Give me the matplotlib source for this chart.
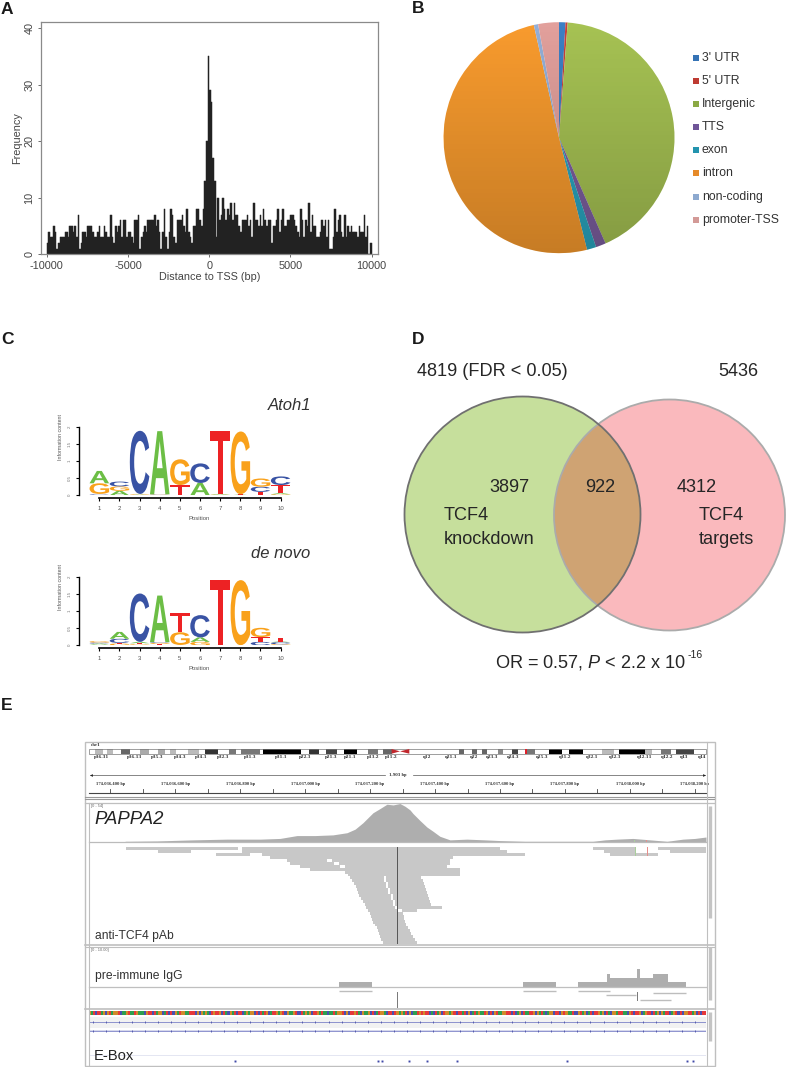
import numpy as np
import matplotlib
matplotlib.use("Agg")
import matplotlib.pyplot as plt
from matplotlib.patches import Circle, PathPatch, Rectangle
from matplotlib.textpath import TextPath
from matplotlib.font_manager import FontProperties
from matplotlib.transforms import Affine2D

plt.rcParams['font.family'] = ['Liberation Sans', 'DejaVu Sans']
plt.rcParams['mathtext.fontset'] = 'custom'
plt.rcParams['mathtext.rm'] = 'Liberation Sans'
plt.rcParams['mathtext.it'] = 'Liberation Sans:italic'

W, H = 786, 1067

# ---------- A: histogram
hist_counts = [2,4,3,3,5,4,1,2,3,3, 3,4,4,3,5,5,4,5,3,7,
               1,2,4,4,3,5,5,5,4,3, 3,4,5,3,3,5,4,3,3,7,
               3,2,5,4,5,6,3,6,6,3, 4,4,3,2,6,6,7,1,3,4,
               5,4,6,6,6,6,7,5,6,4, 1,4,8,3,1,4,8,7,3,2,
               6,6,6,7,5,4,8,4,3,2, 5,5,8,8,6,5,8,13,20,35,
               29,27,17,13,3,10,6,7,10,8, 6,8,7,9,6,9,7,7,5,4,
               6,6,6,7,5,6,3,9,6,6, 5,7,5,8,6,5,6,6,2,5,
               5,6,8,4,6,8,5,5,6,6, 7,7,6,5,4,3,8,6,3,6,
               5,9,4,7,5,5,3,3,4,6, 5,6,3,6,1,1,3,8,4,6,
               7,4,3,7,3,5,4,5,4,4, 4,3,5,4,4,7,3,5,0,2]
hist_bin_left = np.arange(-10000, 10000, 100)
hist_xticks = [-10000, -5000, 0, 5000, 10000]
hist_yticks = [0, 10, 20, 30, 40]

# ---------- B: pie
pie_labels = ["3' UTR", "5' UTR", "Intergenic", "TTS", "exon", "intron", "non-coding", "promoter-TSS"]
pie_values = [0.9, 0.3, 42.2, 1.4, 1.3, 50.4, 0.6, 2.9]
pie_colors = ['#3B7FC4', '#C8403C', '#A6C253', '#7D5FA0', '#2AA6C0', '#F89B2E', '#93AFD8', '#E2A09C']
pie_key_colors = ['#3573B5', '#BE3B32', '#8BA944', '#6F5598', '#2394AE', '#E68A29', '#8DA9CF', '#D39A97']

# ---------- C: sequence logos (bottom to top per position: letter, bits)
logo_colors = {'A': '#6CBE45', 'C': '#3953A4', 'G': '#F9A11B', 'T': '#ED2224'}
atoh1_stacks = [
    [('T', .02), ('C', .02), ('G', .31), ('A', .36)],
    [('A', .13), ('G', .13), ('C', .14)],
    [('A', .02), ('G', .02), ('C', 1.84)],
    [('G', .02), ('C', .01), ('A', 1.84)],
    [('T', .30), ('G', .75)],
    [('A', .36), ('C', .57)],
    [('G', .02), ('A', .02), ('T', 1.83)],
    [('A', .02), ('T', .01), ('G', 1.83)],
    [('T', .10), ('C', .15), ('G', .24)],
    [('G', .03), ('A', .03), ('T', .24), ('C', .25)],
]
denovo_stacks = [
    [('T', .02), ('A', .03), ('C', .03), ('G', .04)],
    [('G', .05), ('T', .02), ('C', .12), ('A', .20)],
    [('G', .03), ('T', .03), ('A', .04), ('C', 1.41)],
    [('T', .04), ('G', .03), ('C', .02), ('A', 1.36)],
    [('A', .01), ('G', .37), ('T', .56)],
    [('G', .10), ('A', .13), ('C', .65)],
    [('G', .01), ('T', 1.90)],
    [('G', 1.90)],
    [('C', .10), ('T', .14), ('G', .27)],
    [('G', .03), ('C', .06), ('A', .02), ('T', .11)],
]

# ---------- D: Venn texts
venn_counts = ['3897', '922', '4312']

# ---------- E: genome browser (bp relative to 174,036,000)
cyto_left = ['p36.31','p36.13','p35.3','p34.3','p34.1','p32.3','p31.3','p31.1','p22.3','p21.3','p21.1','p13.2','p11.2',
             'q12','q21.1','q22','q23.3','q24.3','q25.3','q31.2','q32.1','q32.3','q42.11','q42.2','q43','q44']
cyto_label_pos = [65,165,232,300,365,428,510,605,675,755,810,880,935,
                  1040,1115,1182,1236,1300,1385,1455,1535,1605,1695,1760,1812,1865]
band_start = [45,80,122,180,235,270,325,375,448,483,548,687,737,792,865,910,
              1137,1176,1206,1254,1296,1341,1408,1468,1566,1618,1696,1743,1787]
band_end = [68,98,150,207,255,288,358,413,467,540,663,718,772,830,895,935,
            1152,1191,1221,1269,1314,1366,1446,1510,1602,1696,1717,1773,1842]
band_gray = ['#bbbbbb','#bbbbbb','#666666','#aaaaaa','#aaaaaa','#bbbbbb','#bbbbbb','#333333','#777777','#777777',
             '#000000','#333333','#444444','#000000','#777777','#666666',
             '#666666','#666666','#666666','#888888','#444444','#777777','#000000','#000000','#bbbbbb','#000000',
             '#bbbbbb','#777777','#444444']

cov_bp = [446,545,655,760,862,923,975,1031,1086,1129,1154,1178,1209,1231,1252,1271,1292,1308,1323,1332,1354,1375,
          1394,1415,1446,1498,1554,1600,1677,1886,1923,1960,2009,2062,2114,2163,2200,2234]
cov_reads = [1,1.5,3,4,4,5,9,9,10,13,18,27,41,47,53,52,54,50,45,40,30,21,15,8,3,4,3,2,1,1,3,4,5,3,1,4,5,7]

read_row = [0,0,0,0, 1,1,1,1, 2,2,2, 3, 4,4, 5,5, 6,6, 7, 8, 9,
            10,10, 11,11, 12,12, 13,13, 14,14, 15,15, 16,16, 17,17, 18,18, 19,19,
            20,20, 21,21, 22, 23, 24, 25, 26, 27, 28, 29, 30, 31, 32]
read_start = [449,806,1886,2086, 548,806,1920,2123, 726,868,1938, 892, 945,1083, 954,1105, 985,1123, 1015, 1123, 1132,
              1138,1249, 1145,1249, 1151,1255, 1157,1255, 1160,1262, 1163,1262, 1166,1271, 1172,1271, 1178,1277, 1185,1277,
              1188,1283, 1194,1298, 1200, 1203, 1206, 1209, 1215, 1222, 1225, 1228, 1231, 1234, 1240]
read_end = [794,1600,2015,2234, 649,1622,2015,2234, 831,1677,2086, 1455, 1068,1446, 1089,1446, 1108,1437, 1477, 1477, 1477,
            1243,1357, 1243,1363, 1249,1366, 1249,1369, 1256,1372, 1256,1375, 1265,1378, 1265,1382, 1271,1385, 1271,1388,
            1277,1422, 1286,1345, 1302, 1305, 1305, 1308, 1311, 1317, 1323, 1326, 1332, 1338, 1345]
snp_bp = [2015, 2052]
snp_colors = ['#A9CF9B', '#E58E8B']

igg_start = [1105,1671,1840,1929,1938,2021,2031,2071,2117]
igg_end = [1206,1772,1929,1938,2021,2031,2071,2117,2172]
igg_level = [1,1,1,3,2,4,2,3,1]
igg_read_row = [0,0,0,1,2,3]
igg_read_start = [1105,1671,1840,2071,1926,2031]
igg_read_end = [1206,1772,1938,2172,2018,2126]

ebox_bp = [785,1225,1237,1320,1375,1468,1806,2175,2194]

ref_seq = ("GATCTTAGCGTAGGTCAAGTAATGAAACGTTCTAGGCATCTCGATGGAATTTCGCGAGACTGTTGCTACGATCTTCAGAGGCTCTATGCATTGAGTCGAAG"
           "TCCTAGAGCTTGATAACAATAGGTCGCTTGTACGAAGCTCATGGACTTCTGAGATCGCAATGTGTTCACTAGCTGGAGTCTTATCGCATAGAATGCTCGTA"
           "AGGTTCTCAGCTAATTGCGATACAGGCTTCGTGAATCCGTAGCATCTTGAGCTACGGATTAACGTCTTGCAGTTCTAGCGATTCAGTCTCGGTTAGCTCTT")
base_colors = {'A': '#2E9E4F', 'C': '#4A4FB0', 'G': '#D18A2A', 'T': '#E5383B'}


def ax_px(x0, y0, x1, y1, **kw):
    return fig.add_axes([x0 / W, 1 - y1 / H, (x1 - x0) / W, (y1 - y0) / H], **kw)


fig = plt.figure(figsize=(W / 100, H / 100), dpi=100, facecolor='white')

# ---- Panel A
ax = ax_px(41, 22, 378, 254.3)
ax.bar(hist_bin_left, hist_counts, width=100, align='edge', color='#222222',
       edgecolor='#222222', linewidth=0.35)
ax.set_xlim(-10351, 10388)
ax.set_ylim(0, 41.1)
ax.set_xticks(hist_xticks)
ax.set_yticks(hist_yticks)
ax.set_xticklabels([str(v) for v in hist_xticks], fontsize=7.8, color='#444444')
ax.set_yticklabels([str(v) for v in hist_yticks], fontsize=7.8, color='#444444', rotation=90, va='center')
ax.tick_params(length=2.5, width=0.6, color='#555555', pad=2.2)
for s in ax.spines.values():
    s.set_color('#8a8a8a')
    s.set_linewidth(0.9)
ax.set_xlabel('Distance to TSS (bp)', fontsize=7.8, color='#444444', labelpad=1.2)
ax.set_ylabel('Frequency', fontsize=7.8, color='#444444', labelpad=1.5)

# ---- Panel B
ax = ax_px(443.5, 22.2, 674.5, 253.2)
wedges, _ = ax.pie(pie_values, colors=pie_colors, startangle=90, counterclock=False,
                   radius=1, wedgeprops=dict(linewidth=0))
ax.set_xlim(-1, 1)
ax.set_ylim(-1, 1)
shade = np.zeros((100, 2, 4))
shade[..., 3] = np.linspace(0, 0.2, 100)[:, None]
im = ax.imshow(shade, extent=(-1, 1, -1, 1), origin='upper', aspect='auto', zorder=5)
im.set_clip_path(Circle((0, 0), 1, transform=ax.transData))
ax.set_xlim(-1, 1)
ax.set_ylim(-1, 1)
ax.axis('off')


# ---- Panel C
def draw_logo(box, stacks):
    x0, y0, x1, y1 = box
    a = ax_px(x0, y0, x1, y1)
    a.patch.set_alpha(0)
    a.set_ylim(0, 2)
    a.set_xlim(1 - (99.3 - x0) / 20.15, 1 + (x1 - 99.3) / 20.15)
    fp = FontProperties(family='Liberation Sans', weight='bold')
    for i, stack in enumerate(stacks, start=1):
        b = 0.0
        for letter, bits in stack:
            tp = TextPath((0, 0), letter, size=1, prop=fp)
            ext = tp.get_extents()
            tr = (Affine2D().translate(-ext.x0, -ext.y0)
                  .scale(0.97 / ext.width, bits / ext.height)
                  .translate(i - 0.485, b))
            a.add_patch(PathPatch(tp, transform=tr + a.transData, fc=logo_colors[letter], lw=0))
            b += bits
    for s in ('top', 'right'):
        a.spines[s].set_visible(False)
    a.spines['left'].set_linewidth(1.0)
    a.spines['bottom'].set_linewidth(1.2)
    a.spines['bottom'].set_position(('outward', 2.3))
    a.spines['bottom'].set_bounds(1, 10)
    a.set_yticks([0, .5, 1, 1.5, 2])
    a.set_yticklabels(['0', '0.5', '1', '1.5', '2'], fontsize=3.2, color='#777777', rotation=90, va='center')
    a.set_xticks(range(1, 11))
    a.set_xticklabels([str(i) for i in range(1, 11)], fontsize=4.3, color='#555555')
    a.tick_params(length=2, width=0.8, pad=3.5)


draw_logo((79.3, 426.7, 295, 495.3), atoh1_stacks)
draw_logo((79.3, 576.7, 295, 645.3), denovo_stacks)

# ---- Panel D
ax = ax_px(390, 380, 786, 650)
ax.set_xlim(390, 786)
ax.set_ylim(650, 380)
ax.axis('off')
ax.add_patch(Circle((669.5, 515), 115.5, fc='#FAB9BD', ec='none'))
ax.add_patch(Circle((522.5, 514.5), 118, fc='#C6DF9C', ec='none'))
both = Circle((522.5, 514.5), 118, fc='#CFA373', ec='none')
ax.add_patch(both)
both.set_clip_path(Circle((669.5, 515), 115.5, transform=ax.transData))
ax.add_patch(Circle((669.5, 515), 115.5, fc='none', ec='#ABABAB', lw=1.3))
ax.add_patch(Circle((522.5, 514.5), 118, fc='none', ec='#707070', lw=1.3))

# ---- Panel E
BP_L, BP_R = 335, 2234
TR_L, TR_R = 89, 706


def track(y0, y1, ylim):
    a = ax_px(TR_L, y0, TR_R, y1)
    a.set_xlim(BP_L, BP_R)
    a.set_ylim(*ylim)
    a.axis('off')
    a.patch.set_alpha(0)
    return a


# ideogram
a = track(749, 753.7, (0, 1))
a.set_xlim(27, 1878)
a.barh([0.5] * len(band_start), np.array(band_end) - np.array(band_start), left=band_start,
       height=1, color=band_gray, linewidth=0)
a.add_patch(Rectangle((27, 0), 1851, 1, fc='none', ec='#777777', lw=0.5, clip_on=False))
a.fill([935, 960, 935], [0, .5, 1], color='#C1272D', lw=0)
a.fill([988, 960, 988], [0, .5, 1], color='#C1272D', lw=0)
a.bar([1335], [1], width=6, color='#E0202A', align='edge', linewidth=0)
for lab, p in zip(cyto_left, cyto_label_pos):
    a.text(p, -0.25, lab, ha='center', va='top', fontsize=2.9, family='DejaVu Serif', weight='bold', color='#333333')

# ruler with ticks
a = ax_px(TR_L, 787, TR_R, 793.3)
a.patch.set_alpha(0)
a.set_xlim(BP_L, BP_R)
for s in ('left', 'right', 'top'):
    a.spines[s].set_visible(False)
a.spines['bottom'].set_color('#444444')
a.spines['bottom'].set_linewidth(0.8)
a.set_yticks([])
a.set_xticks(np.arange(400, 2201, 200))
a.set_xticklabels([f'174,03{6 + (v // 1000)},{v % 1000:03d} bp' for v in np.arange(400, 2201, 200)],
                  fontsize=2.4, family='DejaVu Serif', weight='bold', color='#333333')
a.tick_params(axis='x', which='both', bottom=False, top=True, labelbottom=False, labeltop=True,
              direction='out', length=0, pad=0.5)
for v in np.arange(400, 2300, 100):
    a.plot([v, v], [0, 0.62], color='#444444', lw=0.6)
a.set_ylim(0, 1)

# coverage anti-TCF4
a = track(803.5, 842, (0, 54))
a.fill_between(cov_bp, 0, cov_reads, color='#AEAEAE', lw=0)
a.plot([BP_L, BP_R], [0, 0], color='#BBBBBB', lw=0.9, clip_on=False)
for b, c in zip(snp_bp, snp_colors):
    a.bar(b, 3.5, width=3, color=c, linewidth=0)

# reads anti-TCF4
a = track(847, 944, (33, 0))
a.barh(read_row, np.array(read_end) - np.array(read_start), left=read_start, height=1.03,
       align='edge', color='#C8C8C8', linewidth=0)
a.plot([1284, 1284], [0, 33], color='#555555', lw=0.7)
for b, c in zip(snp_bp, snp_colors):
    a.bar(b, 3, width=4, bottom=0, color=c, linewidth=0, align='edge')

# coverage IgG
a = track(965, 986.7, (0, 5))
a.bar(igg_start, igg_level, width=np.array(igg_end) - np.array(igg_start), align='edge',
      color='#AEAEAE', linewidth=0)
# reads IgG
a = track(990, 1008, (12, 0))
rows_px = [0.7, 2.0, 3.4, 6.4]
for r, s, e in zip(igg_read_row, igg_read_start, igg_read_end):
    a.plot([s, e], [rows_px[r]] * 2, color='#BDBDBD', lw=1.0, solid_capstyle='butt')
a.plot([1284, 1284], [1, 11], color='#777777', lw=0.7)
a.plot([2021, 2021], [1.5, 6.5], color='#777777', lw=0.7)

# sequence strip
a = track(1010.7, 1015.3, (0, 1))
step = (BP_R - BP_L) / len(ref_seq)
a.bar(BP_L + np.arange(len(ref_seq)) * step, 1, width=step, align='edge',
      color=[base_colors[b] for b in ref_seq], linewidth=0)

# gene tracks
a = track(1017, 1034, (17, 0))
a.add_patch(Rectangle((BP_L, 0), BP_R - BP_L, 11, fc='#F2F2F2', ec='none'))
a.add_patch(Rectangle((BP_L, 13), BP_R - BP_L, 1.3, fc='#D6D8EC', ec='none'))
gene_ticks = np.arange(BP_L + 12, BP_R, 40.3)
for yy in (4.7, 14):
    a.plot([BP_L, BP_R], [yy, yy], color='#7C82C8', lw=0.6)
    a.plot(gene_ticks, [yy] * len(gene_ticks), ls='none', marker='|', ms=2, mew=0.6, color='#4A50A8')

# E-box
a = track(1050, 1066, (16, 0))
a.plot([BP_L, BP_R], [5, 5], color='#E4E6F2', lw=0.7)
a.plot(ebox_bp, [11] * len(ebox_bp), ls='none', marker='s', ms=1.4, mew=0, color='#3F49A8')

# ---- Overlay: frames and labels
ov = fig.add_axes([0, 0, 1, 1], zorder=10)
ov.set_xlim(0, W)
ov.set_ylim(H, 0)
ov.axis('off')
ov.patch.set_alpha(0)

# panel letters
for t, x, y in [('A', 1, 9.5), ('B', 412, 8.5), ('C', 1, 339), ('D', 412, 339), ('E', 1, 706)]:
    ov.text(x, y, t, fontsize=12.5, weight='bold', ha='left', va='center', color='#1a1a1a')

# pie legend
for i, (lab, col) in enumerate(zip(pie_labels, pie_key_colors)):
    y = 57.7 + i * 23.15
    ov.add_patch(Rectangle((692.7, y - 3), 6, 6, fc=col, ec='none'))
    ov.text(701.7, y, lab, fontsize=8.8, ha='left', va='center', color='#333333')

# logo titles and axis captions
ov.text(268, 406, 'Atoh1', fontsize=12, style='italic', ha='left', va='center', color='#333333')
ov.text(251, 553, 'de novo', fontsize=12, style='italic', ha='left', va='center', color='#333333')
for yc, yp in [(437, 519), (587, 669)]:
    ov.text(60, yc, 'Information content', fontsize=3.8, rotation=90, ha='center', va='center', color='#555555')
    ov.text(199, yp, 'Position', fontsize=4.3, ha='center', va='center', color='#555555')

# venn labels
vt = dict(fontsize=13.1, color='#262626', va='center')
ov.text(417, 371.5, '4819 (FDR < 0.05)', ha='left', **vt)
ov.text(718, 371.5, '5436', ha='left', **vt)
ov.text(489, 487.5, venn_counts[0], ha='left', **vt)
ov.text(585, 487.5, venn_counts[1], ha='left', **vt)
ov.text(677, 487.5, venn_counts[2], ha='left', **vt)
ov.text(444, 516, 'TCF4', ha='left', **vt)
ov.text(444, 539.5, 'knockdown', ha='left', **vt)
ov.text(699, 516, 'TCF4', ha='left', **vt)
ov.text(699, 539.5, 'targets', ha='left', **vt)
ov.text(495, 662, r'OR = 0.57, $\mathit{P}$ < 2.2 x 10', ha='left', **vt)
ov.text(687.5, 655, '-16', ha='left', fontsize=7.5, color='#262626', va='center')

# browser frame
fc = '#BFBFBF'
ov.add_patch(Rectangle((85, 742), 629.5, 324, fc='none', ec=fc, lw=1.0))
for y in (797, 799):
    ov.plot([85, 714], [y, y], color='#999999', lw=0.8)
ov.plot([85, 714], [802.5, 802.5], color=fc, lw=0.9)
ov.plot([85, 714], [945, 945], color=fc, lw=1.2)
ov.plot([85, 714], [947, 947], color=fc, lw=0.8)
ov.plot([85, 714], [1009, 1009], color=fc, lw=1.2)
ov.plot([89, 706], [986.7, 986.7], color=fc, lw=0.9)
ov.plot([89, 89], [803, 1066], color=fc, lw=0.8)
ov.plot([706.5, 706.5], [742, 1066], color=fc, lw=0.8)
for y0, y1 in [(806, 918), (947, 1000), (1012, 1041)]:
    ov.plot([710, 710], [y0, y1], color='#C4C4C4', lw=2.4, solid_capstyle='butt')
ov.plot([90, 385], [775, 775], color='#555555', lw=0.5)
ov.plot([413, 705], [775, 775], color='#555555', lw=0.5)
ov.plot([91], [775], marker='<', ms=2, color='#222222', mew=0)
ov.plot([704], [775], marker='>', ms=2, color='#222222', mew=0)
ov.text(398, 775, '1,903 bp', fontsize=2.6, family='DejaVu Serif', weight='bold', ha='center', va='center', color='#333333')
ov.text(91, 744.5, 'chr1', fontsize=2.8, family='DejaVu Serif', weight='bold', ha='left', va='center', color='#333333')
ov.text(91, 806, '[0 - 54]', fontsize=2.8, ha='left', va='center', color='#666666')
ov.text(91, 950, '[0 - 10.00]', fontsize=2.8, ha='left', va='center', color='#666666')
ov.text(94, 819, 'PAPPA2', fontsize=13.3, style='italic', ha='left', va='center', color='#222222')
ov.text(95, 936, 'anti-TCF4 pAb', fontsize=8.7, ha='left', va='center', color='#333333')
ov.text(95, 976, 'pre-immune IgG', fontsize=8.7, ha='left', va='center', color='#333333')
ov.text(94, 1056, 'E-Box', fontsize=10.6, ha='left', va='center', color='#222222')

fig.savefig('out.png', dpi=100)
